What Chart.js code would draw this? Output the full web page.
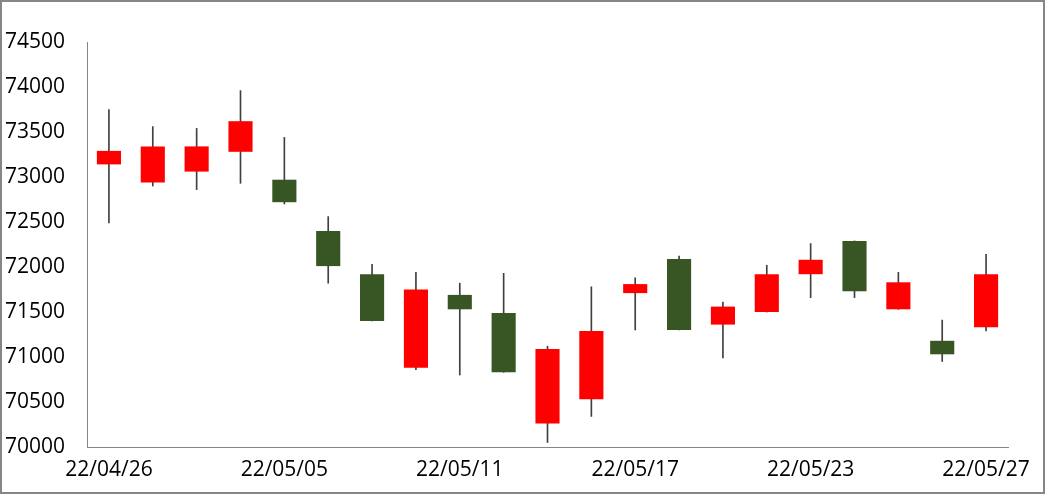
<!DOCTYPE html>
<html>
<head>
<meta charset="utf-8">
<script src="https://cdn.jsdelivr.net/npm/chart.js@4"></script>
<style>
  html, body { margin: 0; padding: 0; background: #fff; }
  #wrap { position: relative; width: 1045px; height: 494px; }
  #frame { position: absolute; left: 0; top: 0; width: 1045px; height: 494px; box-sizing: border-box; border: 2px solid #868686; pointer-events: none; }
  canvas { display: block; }
</style>
</head>
<body>
<div id="wrap">
  <canvas id="c" width="1045" height="494"></canvas>
  <div id="frame"></div>
</div>
<script>
const dates = ['22/04/26','22/04/27','22/04/28','22/04/29','22/05/05','22/05/06','22/05/09','22/05/10','22/05/11','22/05/12','22/05/13','22/05/16','22/05/17','22/05/18','22/05/19','22/05/20','22/05/23','22/05/24','22/05/25','22/05/26','22/05/27'];
const openValues  = [73140, 72940, 73060, 73280, 72970, 72400, 71920, 70880, 71690, 71490, 70260, 70530, 71710, 72090, 71360, 71500, 71920, 72290, 71530, 71180, 71330];
const closeValues = [73290, 73340, 73340, 73620, 72720, 72010, 71400, 71750, 71530, 70830, 71090, 71290, 71810, 71300, 71560, 71920, 72080, 71730, 71830, 71030, 71920];
const highValues  = [73750, 73560, 73540, 73960, 73440, 72560, 72030, 71940, 71820, 71930, 71120, 71780, 71880, 72120, 71610, 72020, 72260, 72290, 71940, 71410, 72140];
const lowValues   = [72490, 72900, 72860, 72930, 72700, 71820, 71400, 70860, 70800, 70830, 70050, 70340, 71300, 71300, 70990, 71500, 71660, 71660, 71530, 70950, 71290];
const yTicks = [70000, 70500, 71000, 71500, 72000, 72500, 73000, 73500, 74000, 74500];

const upColor = '#FF0000';
const downColor = '#375623';

const bodies = dates.map((d, i) => [Math.min(openValues[i], closeValues[i]), Math.max(openValues[i], closeValues[i])]);
const wicks = dates.map((d, i) => [lowValues[i], highValues[i]]);
const bodyColors = dates.map((d, i) => closeValues[i] >= openValues[i] ? upColor : downColor);

new Chart(document.getElementById('c'), {
  type: 'bar',
  data: {
    labels: dates,
    datasets: [
      {
        label: 'wick',
        data: wicks,
        backgroundColor: '#404040',
        borderWidth: 0,
        barThickness: 1,
        grouped: false,
        order: 2
      },
      {
        label: 'body',
        data: bodies,
        backgroundColor: bodyColors,
        borderWidth: 0,
        borderSkipped: false,
        barPercentage: 0.55,
        categoryPercentage: 1,
        grouped: false,
        order: 1
      }
    ]
  },
  options: {
    responsive: false,
    animation: false,
    devicePixelRatio: 1,
    layout: { padding: { top: 42, right: 37, left: 0, bottom: 0 } },
    plugins: { legend: { display: false }, tooltip: { enabled: false } },
    scales: {
      x: {
        grid: { display: false, drawTicks: false },
        border: { display: true, color: '#868686', width: 1 },
        ticks: {
          autoSkip: false,
          maxRotation: 0,
          padding: 10,
          color: '#000',
          font: { family: 'Open Sans', size: 21 },
          callback: function(v, i) { return i % 4 === 0 ? dates[i] : ''; }
        },
        afterFit: function(s) { s.height = 47; }
      },
      y: {
        min: 70000,
        max: 74500,
        grid: { display: false, drawTicks: false },
        border: { display: true, color: '#868686', width: 1 },
        afterBuildTicks: function(s) { s.ticks = yTicks.map(v => ({ value: v })); },
        ticks: {
          padding: 22,
          color: '#000',
          font: { family: 'Open Sans', size: 21 },
          callback: function(v) { return String(v); }
        },
        afterFit: function(s) { s.width = 87; }
      }
    }
  }
});
</script>
</body>
</html>
